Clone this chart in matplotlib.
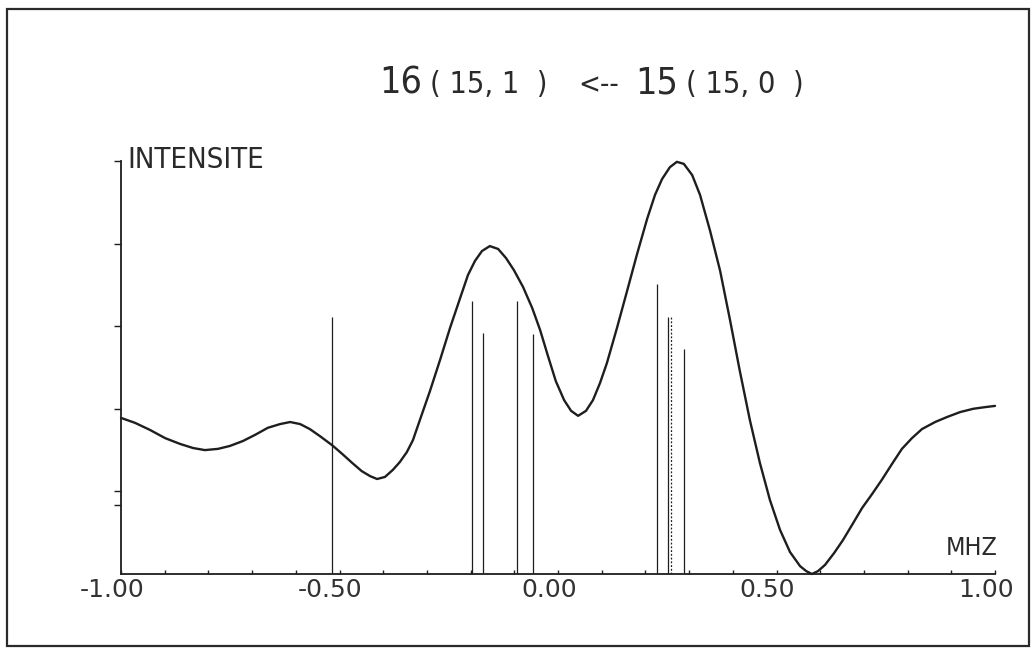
import numpy as np
import matplotlib
matplotlib.use("Agg")
import matplotlib.pyplot as plt
import matplotlib.transforms as mtransforms
from matplotlib import font_manager

# Courbe d'intensite : frequence en MHz, intensite relative
freq = [-1.000, -0.968, -0.934, -0.899, -0.865, -0.835, -0.808, -0.778, -0.751,
        -0.721, -0.693, -0.664, -0.636, -0.613, -0.590, -0.568, -0.545, -0.517,
        -0.494, -0.471, -0.449, -0.430, -0.414, -0.396, -0.378, -0.362, -0.346,
        -0.332, -0.316, -0.293, -0.270, -0.247, -0.224, -0.206, -0.190, -0.174,
        -0.156, -0.137, -0.119, -0.101, -0.080, -0.059, -0.041, -0.023, -0.005,
        0.014, 0.030, 0.046, 0.064, 0.080, 0.096, 0.112, 0.135, 0.158, 0.181,
        0.204, 0.222, 0.238, 0.256, 0.272, 0.288, 0.307, 0.325, 0.348, 0.371,
        0.394, 0.416, 0.439, 0.462, 0.485, 0.508, 0.531, 0.554, 0.568, 0.581,
        0.595, 0.611, 0.632, 0.652, 0.673, 0.696, 0.719, 0.741, 0.764, 0.787,
        0.810, 0.833, 0.863, 0.890, 0.920, 0.950, 0.977, 1.000]
intens = [0.378, 0.366, 0.349, 0.329, 0.315, 0.305, 0.300, 0.303, 0.310,
          0.322, 0.337, 0.354, 0.363, 0.368, 0.363, 0.351, 0.334, 0.312,
          0.291, 0.269, 0.249, 0.237, 0.230, 0.235, 0.252, 0.271, 0.295,
          0.324, 0.373, 0.443, 0.518, 0.596, 0.668, 0.724, 0.758, 0.782,
          0.794, 0.787, 0.765, 0.736, 0.695, 0.644, 0.591, 0.528, 0.467,
          0.421, 0.395, 0.383, 0.395, 0.421, 0.462, 0.511, 0.596, 0.685, 0.775,
          0.860, 0.918, 0.956, 0.985, 0.998, 0.993, 0.966, 0.918, 0.831, 0.734,
          0.613, 0.492, 0.373, 0.269, 0.179, 0.107, 0.053, 0.019, 0.007, 0.000,
          0.007, 0.022, 0.051, 0.082, 0.119, 0.160, 0.194, 0.228, 0.266, 0.303,
          0.329, 0.351, 0.368, 0.380, 0.392, 0.400, 0.404, 0.407]

# Raies (composantes hyperfines)
raies_f = [-0.517, -0.197, -0.172, -0.094, -0.057, 0.227, 0.252, 0.288]
raies_i = [0.622, 0.661, 0.584, 0.661, 0.581, 0.702, 0.622, 0.545]
raie_pointillee_f = [0.259]
raie_pointillee_i = [0.622]

xticks_maj = [-1.0, -0.5, 0.0, 0.5, 1.0]
xticks_lab = ["-1.00", "-0.50", "0.00", "0.50", "1.00"]
xticks_min = [round(-1.0 + 0.1 * k, 1) for k in range(21)]
yticks = [0.167, 0.2, 0.4, 0.6, 0.8, 1.0]

# police etroite (style traceur)
noms = {f.name for f in font_manager.fontManager.ttflist}
if "Liberation Sans Narrow" in noms:
    etroit = dict(family="Liberation Sans Narrow")
else:
    etroit = dict(family="DejaVu Sans", stretch="condensed")

encre = "#1e1e1e"
W, H = 1034, 648
fig = plt.figure(figsize=(W / 100, H / 100), dpi=100)
fig.patch.set_facecolor("white")

def px(x, y):
    return x / W, 1 - y / H

# cadre du papier
cadre = plt.Rectangle(px(7, 646), (1029 - 7) / W, (646 - 9) / H,
                      transform=fig.transFigure, fill=False, lw=1.6,
                      edgecolor="#2a2a2a")
fig.add_artist(cadre)

l, b = px(121, 574)
r, t = px(995, 161)
ax = fig.add_axes([l, b, r - l, t - b])
ax.set_xlim(-1, 1)
ax.set_ylim(0, 1)
ax.patch.set_alpha(0)
for s in ["top", "right"]:
    ax.spines[s].set_visible(False)
for s in ["left", "bottom"]:
    ax.spines[s].set_linewidth(1.3)
    ax.spines[s].set_color(encre)

ax.plot(freq, intens, color=encre, lw=1.7, solid_joinstyle="round",
        solid_capstyle="round", clip_on=False)
ax.vlines(raies_f, 0, raies_i, color=encre, lw=0.9)
ax.vlines(raie_pointillee_f, 0, raie_pointillee_i, color=encre, lw=0.9,
          linestyles=(0, (1.5, 1.5)))

ax.set_xticks(xticks_maj)
ax.set_xticklabels(xticks_lab, fontsize=18, color="#333333")
ax.set_xticks(xticks_min, minor=True)
ax.tick_params(axis="x", which="both", direction="in", length=3, width=1,
               color=encre, pad=3)
ax.set_yticks(yticks)
ax.set_yticklabels([])
ax.tick_params(axis="y", direction="out", length=5, width=1, color=encre)
decal = mtransforms.ScaledTranslation(-9 / 100, 0, fig.dpi_scale_trans)
for lab in ax.get_xticklabels():
    lab.set_transform(lab.get_transform() + decal)

# textes
fig.text(*px(127, 168), "INTENSITE", fontsize=21, color="#2a2a2a",
         ha="left", va="baseline", **etroit)
fig.text(*px(972, 555), "MHZ", fontsize=18, color="#2a2a2a",
         ha="center", va="baseline", **etroit)

titre = [("16", 401, 27), ("( 15, 1  )", 489, 22), ("<--", 599, 21),
         ("15", 657, 27), ("( 15, 0  )", 745, 22)]
for txt, xc, fs in titre:
    fig.text(*px(xc, 93), txt, fontsize=fs, color="#2a2a2a",
             ha="center", va="baseline", **etroit)

fig.savefig("out.png", dpi=100, facecolor="white")
